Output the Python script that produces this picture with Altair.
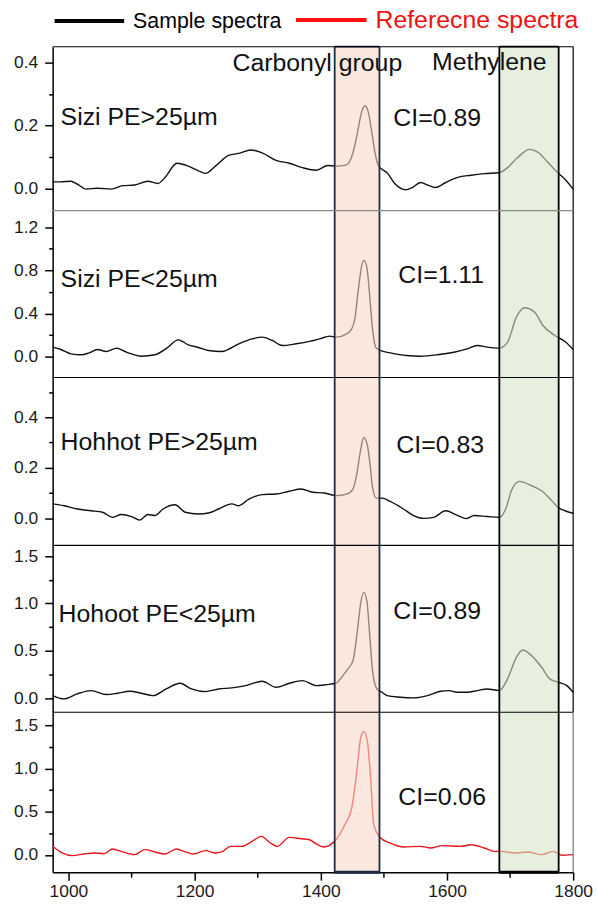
import altair as alt
import pandas as pd

FONT = "Liberation Sans"

# ---------------- text ----------------
LEGEND_LABELS = ["Sample spectra", "Referecne spectra"]
REGION_LABELS = ["Carbonyl group", "Methylene"]
SAMPLE_NAMES = ["Sizi PE>25µm", "Sizi PE<25µm", "Hohhot PE>25µm", "Hohoot PE<25µm", ""]
CI_LABELS = ["CI=0.89", "CI=1.11", "CI=0.83", "CI=0.89", "CI=0.06"]

# ---------------- regions / axes ----------------
CARBONYL_RANGE = [1422, 1493]
METHYLENE_RANGE = [1683, 1777]
X_DOMAIN = [975, 1800]
X_TICKS = [1000, 1100, 1200, 1300, 1400, 1500, 1600, 1700, 1800]

Y_DOMAINS = [[-0.069, 0.4497], [-0.195, 1.355], [-0.107, 0.557], [-0.148, 1.613], [-0.199, 1.649]]
Y_TICKS = [
    [0, 0.1, 0.2, 0.3, 0.4],
    [0, 0.2, 0.4, 0.6, 0.8, 1.0, 1.2],
    [0, 0.1, 0.2, 0.3, 0.4, 0.5],
    [0, 0.25, 0.5, 0.75, 1.0, 1.25, 1.5],
    [0, 0.25, 0.5, 0.75, 1.0, 1.25, 1.5],
]
Y_MAJOR_STEP = [0.2, 0.4, 0.2, 0.5, 0.5]

# ---------------- spectra ----------------
WN_1 = [975, 988, 1004, 1014, 1028, 1046, 1068, 1086, 1105, 1126,
        1142, 1153, 1172, 1190, 1206, 1217, 1233, 1254, 1270, 1289,
        1307, 1329, 1350, 1371, 1393, 1411, 1424, 1441, 1451, 1458,
        1465, 1470, 1475, 1481, 1486, 1491, 1497, 1505, 1518, 1534,
        1545, 1558, 1569, 1582, 1598, 1617, 1638, 1659, 1683, 1696,
        1712, 1731, 1744, 1758, 1774, 1787, 1800]
AB_1 = [0.022, 0.022, 0.024, 0.015, -0.001, 0.002, -0.001, 0.010, 0.012, 0.024,
        0.017, 0.036, 0.081, 0.072, 0.057, 0.049, 0.072, 0.106, 0.112, 0.123,
        0.114, 0.090, 0.081, 0.067, 0.059, 0.074, 0.072, 0.076, 0.114, 0.177,
        0.245, 0.263, 0.245, 0.177, 0.114, 0.074, 0.062, 0.051, 0.015, -0.003,
        0.004, 0.020, 0.012, 0.004, 0.020, 0.036, 0.043, 0.048, 0.051, 0.067,
        0.099, 0.125, 0.116, 0.088, 0.054, 0.030, -0.001]

WN_2 = [975, 988, 1004, 1020, 1033, 1046, 1060, 1076, 1092, 1116,
        1137, 1156, 1174, 1190, 1206, 1222, 1243, 1270, 1291, 1307,
        1323, 1339, 1361, 1382, 1398, 1414, 1424, 1441, 1449, 1454,
        1459, 1465, 1468, 1473, 1477, 1482, 1487, 1494, 1510, 1536,
        1558, 1585, 1611, 1632, 1648, 1664, 1683, 1696, 1710, 1723,
        1739, 1752, 1771, 1787, 1800]
AB_2 = [0.087, 0.065, 0.025, 0.016, 0.034, 0.065, 0.047, 0.078, 0.040, 0.003,
        0.016, 0.078, 0.155, 0.109, 0.084, 0.056, 0.047, 0.118, 0.164, 0.180,
        0.149, 0.102, 0.118, 0.140, 0.164, 0.189, 0.180, 0.211, 0.257, 0.350,
        0.598, 0.847, 0.893, 0.831, 0.598, 0.257, 0.087, 0.056, 0.034, 0.009,
        0.003, 0.016, 0.040, 0.071, 0.102, 0.087, 0.078, 0.133, 0.366, 0.453,
        0.412, 0.288, 0.195, 0.140, 0.065]

WN_3 = [975, 993, 1014, 1036, 1054, 1070, 1084, 1100, 1113, 1126,
        1137, 1150, 1169, 1185, 1206, 1222, 1238, 1259, 1270, 1286,
        1307, 1329, 1350, 1369, 1387, 1406, 1424, 1441, 1451, 1457,
        1462, 1468, 1474, 1478, 1482, 1488, 1497, 1510, 1531, 1547,
        1563, 1579, 1598, 1614, 1630, 1643, 1664, 1683, 1694, 1702,
        1715, 1734, 1750, 1766, 1776, 1787, 1800]
AB_3 = [0.057, 0.050, 0.037, 0.030, 0.024, 0.004, 0.015, 0.007, -0.007, 0.015,
        0.011, 0.037, 0.054, 0.024, 0.017, 0.021, 0.037, 0.057, 0.050, 0.076,
        0.094, 0.096, 0.107, 0.116, 0.103, 0.100, 0.090, 0.096, 0.116, 0.175,
        0.254, 0.320, 0.287, 0.215, 0.123, 0.080, 0.080, 0.067, 0.037, 0.011,
        0.000, 0.004, 0.030, 0.015, -0.001, 0.011, 0.007, 0.004, 0.043, 0.109,
        0.146, 0.129, 0.109, 0.070, 0.043, 0.030, 0.020]

WN_4 = [975, 993, 1014, 1036, 1060, 1078, 1097, 1116, 1134, 1155,
        1177, 1195, 1217, 1238, 1259, 1281, 1307, 1329, 1350, 1371,
        1393, 1409, 1424, 1435, 1443, 1451, 1458, 1463, 1468, 1473,
        1477, 1482, 1489, 1497, 1505, 1526, 1547, 1569, 1590, 1603,
        1616, 1632, 1648, 1664, 1683, 1696, 1710, 1720, 1734, 1750,
        1763, 1776, 1790, 1800]
AB_4 = [0.028, -0.007, 0.046, 0.081, 0.039, 0.053, 0.074, 0.053, 0.028, 0.098,
        0.158, 0.098, 0.070, 0.098, 0.109, 0.133, 0.179, 0.116, 0.158, 0.186,
        0.133, 0.144, 0.158, 0.239, 0.309, 0.397, 0.713, 0.994, 1.117, 1.029,
        0.713, 0.292, 0.098, 0.063, 0.028, 0.011, 0.004, 0.028, 0.074, 0.081,
        0.063, 0.063, 0.081, 0.098, 0.081, 0.204, 0.432, 0.509, 0.450, 0.327,
        0.204, 0.169, 0.133, 0.063]

WN_5 = [975, 990, 1006, 1025, 1041, 1057, 1070, 1086, 1105, 1121,
        1137, 1153, 1171, 1185, 1198, 1217, 1233, 1243, 1257, 1275,
        1291, 1306, 1318, 1331, 1350, 1369, 1382, 1393, 1404, 1424,
        1438, 1449, 1457, 1463, 1468, 1474, 1479, 1484, 1494, 1510,
        1531, 1558, 1574, 1592, 1622, 1638, 1659, 1675, 1686, 1707,
        1728, 1750, 1768, 1782, 1800]
AB_5 = [0.100, 0.023, -0.007, 0.012, 0.023, 0.016, 0.069, 0.035, 0.004, 0.062,
        0.035, 0.012, 0.069, 0.035, 0.012, 0.050, 0.023, 0.035, 0.100, 0.100,
        0.157, 0.215, 0.150, 0.100, 0.203, 0.188, 0.176, 0.127, 0.092, 0.176,
        0.349, 0.540, 0.961, 1.344, 1.428, 1.305, 0.884, 0.349, 0.203, 0.138,
        0.092, 0.100, 0.081, 0.108, 0.100, 0.119, 0.081, 0.042, 0.042, 0.023,
        0.035, 0.004, 0.042, -0.003, 0.004]

WNS = [WN_1, WN_2, WN_3, WN_4, WN_5]
ABS = [AB_1, AB_2, AB_3, AB_4, AB_5]

# ---------------- style ----------------
W = 524
HEIGHTS = [165, 168, 169, 168, 161]
LINE_COLORS = ["#111111", "#111111", "#111111", "#111111", "#e8161b"]
TOP_FRAME_COLORS = ["#000000", "#8a8a8a", "#000000", "#000000", "#000000"]
CARB_FILL = "#f7d5c6"
METH_FILL = "#d5e6c8"
CARB_EDGE = "#1c2a48"
METH_EDGE = "#000000"
NAME_POS = [(8, 79), (8, 77), (8, 73), (6, 77), (8, 80)]
CI_POS = [(343, 80), (348, 73), (346, 76), (343, 74), (348, 93)]
BIG = 25


def major_test(step):
    return f"abs(datum.value / {step} - round(datum.value / {step})) < 0.001"


one_row = pd.DataFrame({"a": [0]})
box_df = pd.DataFrame({
    "x0": [CARBONYL_RANGE[0], METHYLENE_RANGE[0]],
    "x1": [CARBONYL_RANGE[1], METHYLENE_RANGE[1]],
    "fill": [CARB_FILL, METH_FILL],
    "edge": [CARB_EDGE, METH_EDGE],
})
edge_df = pd.DataFrame({
    "xe": [CARBONYL_RANGE[0], CARBONYL_RANGE[1], METHYLENE_RANGE[0], METHYLENE_RANGE[1]],
    "edge": [CARB_EDGE, CARB_EDGE, METH_EDGE, METH_EDGE],
})

x_scale = alt.Scale(domain=X_DOMAIN, nice=False, zero=False)
xt = major_test(200)
x_axis_bottom = alt.Axis(
    values=X_TICKS, title=None, grid=False,
    labelExpr=f"{xt} ? format(datum.value, 'd') : ''",
    tickSize={"condition": {"test": xt, "value": 8}, "value": 5},
    tickWidth=1.5, tickColor="#000", domainColor="#000", domainWidth=1.5,
    labelFont=FONT, labelFontSize=17.5, labelColor="#1a1a1a", labelPadding=2,
    labelFlush=False,
)


def xenc(field, i):
    ax = x_axis_bottom if i == 4 else None
    return alt.X(f"{field}:Q", scale=x_scale, axis=ax, title=None)


def text_layer(label, x, y, size, color="#111"):
    return alt.Chart(pd.DataFrame({"t": [label]})).mark_text(
        align="left", baseline="alphabetic", font=FONT, fontSize=size, color=color
    ).encode(x=alt.value(x), y=alt.value(y), text="t:N")


def panel(i):
    h = HEIGHTS[i]
    df = pd.DataFrame({"wn": WNS[i], "ab": ABS[i]})
    t = major_test(Y_MAJOR_STEP[i])
    y_axis = alt.Axis(
        values=Y_TICKS[i], title=None, grid=False,
        labelExpr=f"{t} ? format(datum.value, '.1f') : ''",
        tickSize={"condition": {"test": t, "value": 8}, "value": 4},
        tickWidth=1.5, tickColor="#000", domainColor="#000", domainWidth=1.5,
        labelFont=FONT, labelFontSize=17.5, labelColor="#1a1a1a", labelPadding=7,
        labelFlush=False,
    )
    line = alt.Chart(df).mark_line(
        color=LINE_COLORS[i], strokeWidth=1.4, interpolate="monotone"
    ).encode(
        x=xenc("wn", i),
        y=alt.Y("ab:Q", scale=alt.Scale(domain=Y_DOMAINS[i], nice=False, zero=False), axis=y_axis),
    )
    fills = alt.Chart(box_df).mark_rect(opacity=0.58).encode(
        x=xenc("x0", i), x2="x1:Q",
        y=alt.value(0), y2=alt.value(h),
        color=alt.Color("fill:N", scale=None),
    )
    edges = alt.Chart(edge_df).mark_rule(strokeWidth=1.8).encode(
        x=xenc("xe", i), y=alt.value(0), y2=alt.value(h),
        color=alt.Color("edge:N", scale=None),
    )
    layers = [line, fills, edges]

    if i == 0:
        layers.append(alt.Chart(box_df).mark_rule(strokeWidth=1.8).encode(
            x=xenc("x0", i), x2="x1:Q", y=alt.value(0),
            color=alt.Color("edge:N", scale=None)))
    if i == 4:
        layers.append(alt.Chart(box_df).mark_rule(strokeWidth=3).encode(
            x=xenc("x0", i), x2="x1:Q", y=alt.value(h),
            color=alt.Color("edge:N", scale=None)))

    # frame lines
    layers.append(alt.Chart(one_row).mark_rule(color=TOP_FRAME_COLORS[i], strokeWidth=1.2).encode(
        x=alt.value(0), x2=alt.value(W), y=alt.value(0)))
    layers.append(alt.Chart(one_row).mark_rule(color="#000" if i < 4 else "#777", strokeWidth=1.2).encode(
        x=alt.value(W), y=alt.value(0), y2=alt.value(h)))

    # texts
    nx, ny = NAME_POS[i]
    if SAMPLE_NAMES[i]:
        layers.append(text_layer(SAMPLE_NAMES[i], nx, ny, BIG))
    cx, cy = CI_POS[i]
    layers.append(text_layer(CI_LABELS[i], cx, cy, BIG))

    if i == 0:
        layers.append(text_layer(REGION_LABELS[0], 181, 24, BIG))
        layers.append(text_layer(REGION_LABELS[1], 382, 23, BIG))
        # legend
        layers.append(alt.Chart(one_row).mark_rule(color="#000", strokeWidth=4).encode(
            x=alt.value(2), x2=alt.value(72), y=alt.value(-26)))
        layers.append(alt.Chart(one_row).mark_rule(color="#ff1010", strokeWidth=4).encode(
            x=alt.value(245), x2=alt.value(316), y=alt.value(-27)))
        layers.append(text_layer(LEGEND_LABELS[0], 81, -19, 21.5, "#000"))
        layers.append(text_layer(LEGEND_LABELS[1], 325, -19, BIG, "#f01010"))

    return alt.layer(*layers).properties(width=W, height=h)


chart = alt.vconcat(*[panel(i) for i in range(5)], spacing=0, bounds="flush").properties(
    padding={"left": 13, "top": 5, "right": 5, "bottom": 5}
).configure_view(stroke=None)

chart.save("out.html", embed_options={"renderer": "svg", "actions": False})
